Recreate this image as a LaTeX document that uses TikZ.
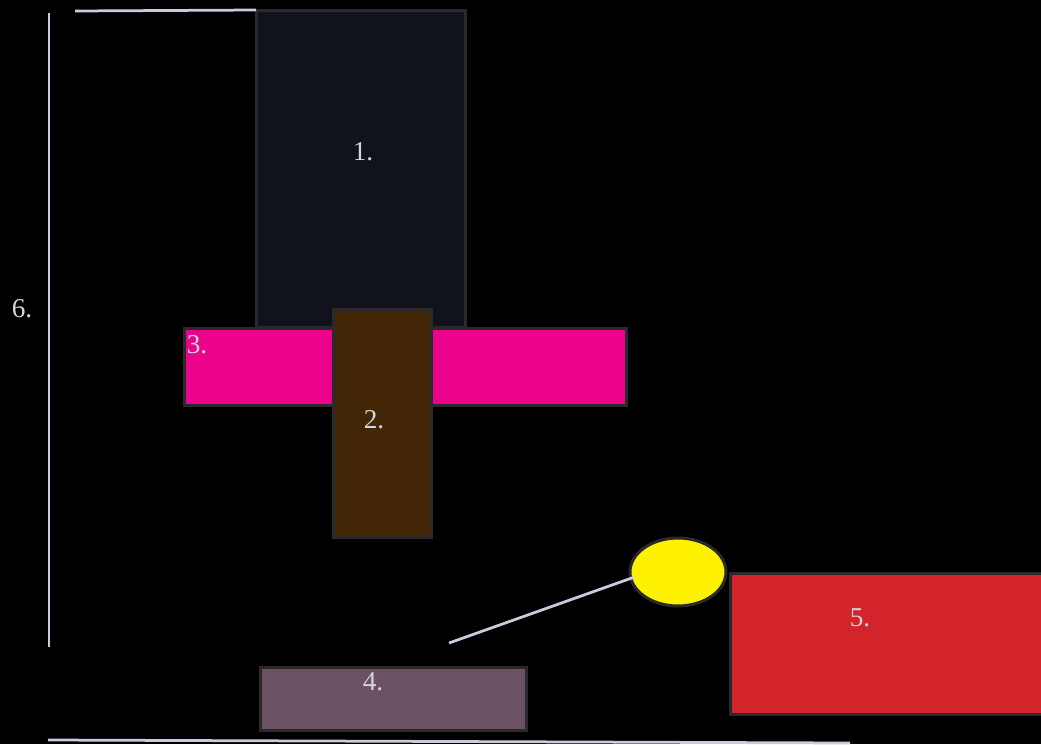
\documentclass[tikz,border=0pt]{standalone}
\usepackage{fontspec}
\setmainfont{Liberation Serif}
\usepackage{tikz}
\usetikzlibrary{positioning,shapes.geometric}
\definecolor{navyblk}{HTML}{10131C}
\definecolor{hotpink}{HTML}{EC038C}
\definecolor{umber}{HTML}{432605}
\definecolor{mauve}{HTML}{6B5263}
\definecolor{brickred}{HTML}{D2242A}
\definecolor{lemon}{HTML}{FFF200}
\definecolor{edgegray}{HTML}{2A2A2A}
\definecolor{linegray}{HTML}{C8CCDC}
\definecolor{txtgray}{HTML}{D4D4DC}
\tikzset{
  blk/.style={rectangle,draw=edgegray,line width=0.6mm,inner sep=0pt},
  lbl/.style={text=txtgray,font=\fontsize{15.5}{18}\selectfont,inner sep=0pt},
  rule/.style={draw=linegray,line width=0.55mm},
}
\begin{document}
\begin{tikzpicture}[x=0.02cm,y=-0.02cm]
  \fill[black] (0,0) rectangle (1041,744);
  \useasboundingbox (0,0) rectangle (1041,744);
  % blocks
  \node[blk,fill=navyblk,minimum width=4.2cm,minimum height=6.36cm] (b1) at (361,169) {};
  \node[blk,fill=hotpink,minimum width=8.86cm,minimum height=1.56cm] (b3) at (405.5,367) {};
  \node[blk,fill=umber,minimum width=1.98cm,minimum height=4.58cm] (b2) at (382.5,423.5) {};
  \node[blk,fill=mauve,minimum width=5.34cm,minimum height=1.26cm] (b4) at (393.5,698.5) {};
  \node[blk,fill=brickred,minimum width=6.3cm,minimum height=2.84cm] (b5) at (887.5,644) {};
  \node[ellipse,draw=edgegray,line width=0.6mm,fill=lemon,minimum width=1.92cm,minimum height=1.36cm,inner sep=0pt] (ell) at (678,572) {};
  % labels
  \node[lbl] (t1) at (363,152) {1.};
  \node[lbl] (t2) at (374,420) {2.};
  \node[lbl] (t3) at (197,345) {3.};
  \node[lbl] (t4) at (373,682) {4.};
  \node[lbl] (t5) at (860,618) {5.};
  \node[lbl] (t6) at (22,309) {6.};
  % rules
  \coordinate (vtop) at (49,13);
  \coordinate (vbot) at (49,647);
  \coordinate (htl) at (75,11);
  \coordinate (htr) at (256,10);
  \coordinate (hbl) at (48,740);
  \coordinate (hbr) at (850,743);
  \coordinate (lnend) at (449,643);
  \draw[rule] (vtop) -- (vbot);
  \draw[rule] (htl) -- (htr);
  \draw[rule] (hbl) -- (hbr);
  \draw[rule,shorten >=-0.1cm] (lnend) -- (ell.188);
\end{tikzpicture}
\end{document}
